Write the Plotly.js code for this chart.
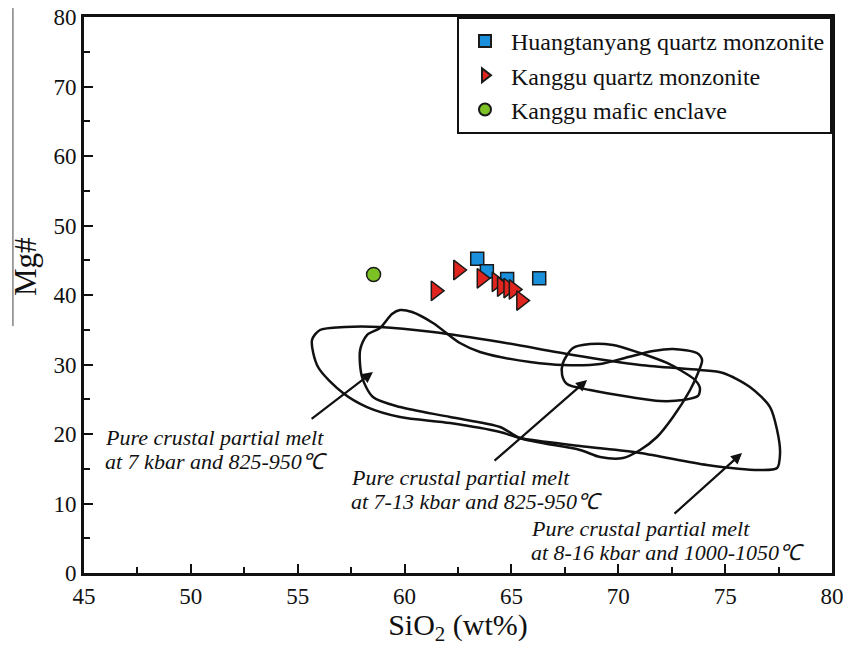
<!DOCTYPE html>
<html>
<head>
<meta charset="utf-8">
<script src="https://cdn.plot.ly/plotly-3.0.1.min.js"></script>
<style>
html,body{margin:0;padding:0;background:#fff;}
#chart{width:846px;height:646px;}
</style>
</head>
<body>
<div id="chart"></div>
<script>
// ---- data ----
const huangSiO2 = [63.4, 63.85, 64.8, 66.3];
const huangMg   = [45.2, 43.4, 42.3, 42.4];

const kangguSiO2 = [61.45, 62.5, 63.6, 64.3, 64.55, 64.85, 65.1, 65.45];
const kangguMg   = [40.6, 43.6, 42.4, 41.9, 41.2, 41.0, 40.8, 39.2];

const enclaveSiO2 = [58.55];
const enclaveMg   = [42.95];

// field: pure crustal partial melt at 8-16 kbar and 1000-1050 C (large field)
const field816x = [55.67, 56.04, 57.21, 58.85, 61.33, 64.47, 67.88, 71.02, 73.82, 74.90, 76.16, 77.10, 77.43, 77.57, 77.43, 76.63, 74.15, 71.02, 68.21, 65.40, 64.47, 62.13, 59.79, 58.24, 57.12, 55.95, 55.67];
const field816y = [33.53, 34.96, 35.40, 35.40, 34.68, 33.24, 31.37, 29.93, 29.21, 28.78, 26.76, 23.88, 20.58, 17.27, 15.11, 14.82, 15.54, 17.27, 18.27, 19.42, 20.29, 21.58, 22.45, 23.88, 25.90, 29.64, 33.53];

// field: pure crustal partial melt at 7 kbar and 825-950 C
const field7x = [57.92, 58.24, 58.85, 59.41, 59.79, 60.35, 61.33, 62.59, 63.53, 64.47, 65.87, 67.41, 69.15, 70.31, 71.63, 72.56, 73.68, 73.92, 73.73, 73.36, 72.56, 71.81, 71.02, 70.22, 69.15, 68.21, 65.40, 64.47, 62.13, 59.79, 58.52, 58.01, 57.92];
const field7y = [32.09, 34.24, 35.25, 37.27, 37.84, 37.55, 35.97, 33.09, 31.80, 31.08, 30.36, 29.93, 30.07, 30.94, 31.94, 32.23, 31.65, 30.65, 28.78, 26.33, 22.45, 19.57, 17.70, 16.55, 16.69, 17.70, 19.42, 21.01, 22.45, 23.88, 25.32, 28.20, 32.09];

// field: pure crustal partial melt at 7-13 kbar and 825-950 C (small field)
const field713x = [67.88, 68.68, 69.75, 71.02, 72.28, 72.89, 73.59, 73.82, 73.73, 73.03, 71.95, 70.55, 68.68, 67.60, 67.37, 67.41, 67.88];
const field713y = [32.37, 32.95, 32.81, 31.65, 30.22, 29.21, 27.77, 26.62, 25.47, 24.89, 24.75, 25.32, 26.33, 27.19, 28.49, 30.22, 32.37];

const xTickVals = [45, 50, 55, 60, 65, 70, 75, 80];
const yTickVals = [0, 10, 20, 30, 40, 50, 60, 70, 80];

const xTitle = "SiO<sub>2</sub> (wt%)";
const yTitle = "Mg#";

const labelLines = [
  "Pure crustal partial melt", "at 7 kbar and 825-950℃",
  "Pure crustal partial melt", "at 7-13 kbar and 825-950℃",
  "Pure crustal partial melt", "at 8-16 kbar and 1000-1050℃"
];

// ---- chart ----
const serif = "Liberation Serif, Times New Roman, serif";
const fieldLine = {color: "#111", width: 2.5, shape: "spline", smoothing: 0.8};

const traces = [
  {x: field816x, y: field816y, mode: "lines", line: fieldLine, showlegend: false, hoverinfo: "skip"},
  {x: field7x, y: field7y, mode: "lines", line: fieldLine, showlegend: false, hoverinfo: "skip"},
  {x: field713x, y: field713y, mode: "lines", line: fieldLine, showlegend: false, hoverinfo: "skip"},
  {x: huangSiO2, y: huangMg, mode: "markers", name: "Huangtanyang quartz monzonite",
   marker: {symbol: "square", size: 13, color: "#1a8fdc", line: {color: "#1a1a1a", width: 1.5}}},
  {x: kangguSiO2, y: kangguMg, mode: "markers", name: "Kanggu quartz monzonite",
   marker: {symbol: "triangle-right", size: 17, color: "#e0251e", line: {color: "#1a1a1a", width: 1.5}}},
  {x: enclaveSiO2, y: enclaveMg, mode: "markers", name: "Kanggu mafic enclave",
   marker: {symbol: "circle", size: 14, color: "#7cc225", line: {color: "#1a1a1a", width: 1.5}}}
];

function arrow(hx, hy, tx, ty) {
  return {x: hx, y: hy, ax: tx, ay: ty, xref: "x", yref: "y", axref: "x", ayref: "y",
          text: "", showarrow: true, arrowhead: 2, arrowsize: 1, arrowwidth: 2.2, arrowcolor: "#111"};
}
function label(x, y, t) {
  return {x: x, y: y, xref: "x", yref: "y", text: t, showarrow: false, xanchor: "left", yanchor: "middle",
          font: {family: serif, size: 22, color: "#111", style: "italic"}};
}

const annotations = [
  arrow(58.52, 28.92, 55.58, 22.01),
  arrow(68.54, 27.77, 64.14, 15.97),
  arrow(75.79, 17.27, 72.56, 8.35),
  label(45.9, 19.5, labelLines[0]),
  label(45.9, 16.0, labelLines[1]),
  label(57.4, 13.8, labelLines[2]),
  label(57.4, 10.3, labelLines[3]),
  label(65.8, 6.45, labelLines[4]),
  label(65.8, 2.95, labelLines[5]),
  {x: -0.079, y: 0.552, xref: "paper", yref: "paper", text: yTitle, textangle: -90, showarrow: false,
   xanchor: "center", yanchor: "middle", font: {family: serif, size: 31, color: "#111"}}
];

const layout = {
  width: 846, height: 646,
  margin: {l: 84, r: 14, t: 17, b: 73},
  paper_bgcolor: "#fff", plot_bgcolor: "#fff",
  font: {family: serif, color: "#111"},
  xaxis: {
    range: [45, 80], tickvals: xTickVals, ticks: "inside", ticklen: 9, tickwidth: 2, tickcolor: "#111",
    minor: {dtick: 2.5, ticks: "inside", ticklen: 6, tickwidth: 2, tickcolor: "#111"},
    showline: true, linewidth: 3, linecolor: "#111", mirror: true, showgrid: false, zeroline: false,
    tickfont: {family: serif, size: 23, color: "#111"},
    title: {text: xTitle, font: {family: serif, size: 30, color: "#111"}, standoff: 8}
  },
  yaxis: {
    range: [0, 80], tickvals: yTickVals, ticks: "inside", ticklen: 9, tickwidth: 2, tickcolor: "#111",
    minor: {dtick: 5, ticks: "inside", ticklen: 6, tickwidth: 2, tickcolor: "#111"},
    showline: true, linewidth: 3, linecolor: "#111", mirror: true, showgrid: false, zeroline: false,
    tickfont: {family: serif, size: 23, color: "#111"}
  },
  legend: {
    x: 1, y: 1, xanchor: "right", yanchor: "top",
    bgcolor: "#fff", bordercolor: "#111", borderwidth: 2,
    font: {family: serif, size: 24, color: "#111"},
    itemsizing: "constant", itemwidth: 42
  },
  shapes: [
    {type: "line", xref: "paper", yref: "paper", x0: -0.095, x1: -0.095, y0: 1.016, y1: 0.444,
     line: {color: "#444", width: 1}}
  ],
  annotations: annotations
};

Plotly.newPlot("chart", traces, layout, {displayModeBar: false, staticPlot: true});
</script>
</body>
</html>
